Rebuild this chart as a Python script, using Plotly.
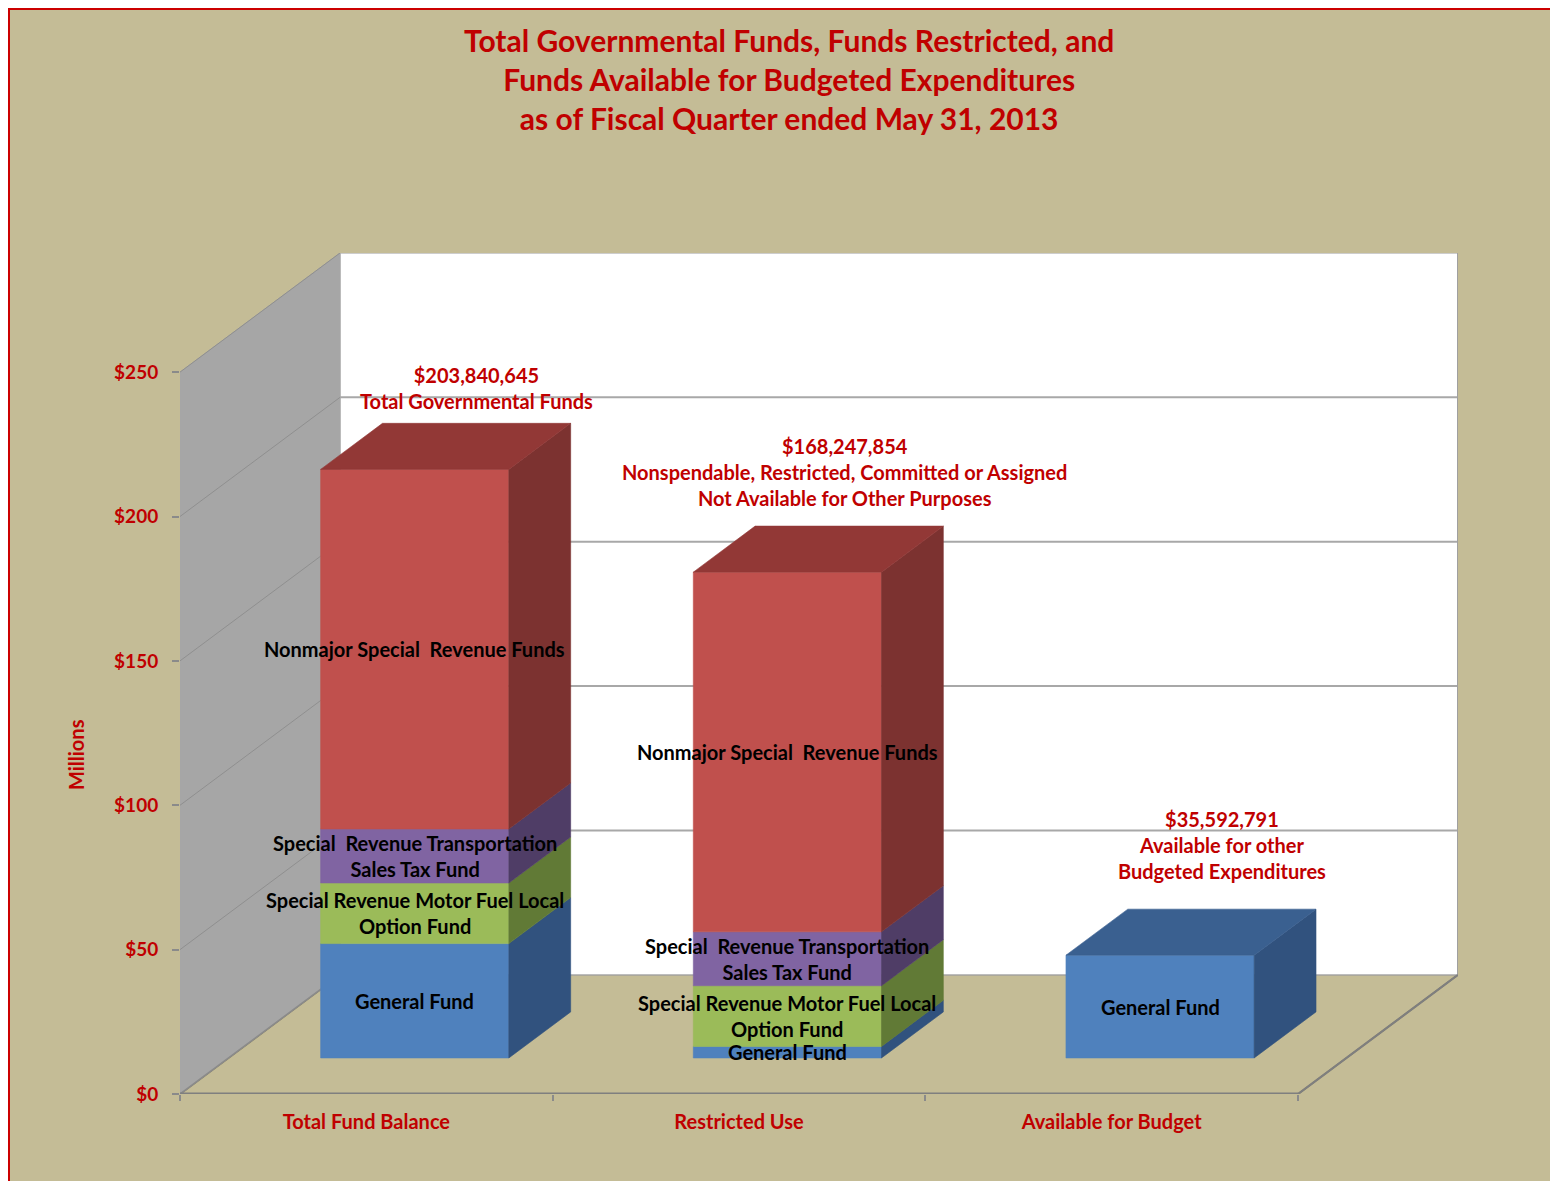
import plotly.graph_objects as go

# ---------------- data (millions of dollars) ----------------
categories = ["Total Fund Balance", "Restricted Use", "Available for Budget"]
series_names = ["General Fund", "Special Revenue Motor Fuel Local Option Fund",
                "Special Revenue Transportation Sales Tax Fund", "Nonmajor Special Revenue Funds"]
general_fund = [39.6, 4.01, 35.59]
motor_fuel = [21.0, 21.0, 0.0]
transportation = [18.7, 18.7, 0.0]
nonmajor = [124.54, 124.54, 0.0]
segment_labels = ["General Fund",
                  "Special Revenue Motor Fuel Local<br>Option Fund",
                  "Special\u00a0 Revenue Transportation<br>Sales Tax Fund",
                  "Nonmajor Special\u00a0 Revenue Funds"]
total_labels = ["$203,840,645<br>Total Governmental Funds",
                "$168,247,854<br>Nonspendable, Restricted, Committed or Assigned<br>Not Available for Other Purposes",
                "$35,592,791<br>Available for other<br>Budgeted Expenditures"]
y_ticks = [0, 50, 100, 150, 200, 250]
y_tick_text = ["$0", "$50", "$100", "$150", "$200", "$250"]
title_text = ("Total Governmental Funds, Funds Restricted, and<br>"
              "Funds Available for Budgeted Expenditures<br>"
              "as of Fiscal Quarter ended May 31, 2013")

# ---------------- style ----------------
FONT = "Lato"
RED = "#C00000"
BG = "#C4BC96"
front_colors = ["#4F81BD", "#9BBB59", "#8064A2", "#C0504D"]
side_colors = ["#31527E", "#617A36", "#4F3D66", "#7C3230"]
top_colors = ["#3A6090", "#76913F", "#5E4A7D", "#923836"]
label_offsets = [8, 14, 24]
label_xshift = [0, -5, 0]

OFF = 8                          # page body margin
W, H = 1558 - OFF, 1181 - OFF
ML, MR, MT, MB = 180 - OFF, 100, 253 - OFF, 87
PW, PH = W - ML - MR, H - MT - MB
PXX = 372.7                     # pixels per category unit
YMAX = 250
DX = 160 / PXX                  # oblique depth of the floor, in axis units
DY = 41.26
F0, F1 = 0.3025, 0.689          # bar front / back as fraction of depth
BAR_W = 0.505

def px(xs):  # screen pixel -> paper x
    return (xs - OFF - ML) / PW

def py(ys):  # screen pixel -> paper y
    return (H - MB - (ys - OFF)) / PH

fig = go.Figure()

def poly(xs, ys, fill, line_color=None, lw=0.6):
    fig.add_trace(go.Scatter(x=xs + [xs[0]], y=ys + [ys[0]], mode="lines", fill="toself",
                             fillcolor=fill, line=dict(color=line_color or fill, width=lw),
                             hoverinfo="skip", showlegend=False))

def line(xs, ys, color, width):
    fig.add_trace(go.Scatter(x=xs, y=ys, mode="lines", line=dict(color=color, width=width),
                             hoverinfo="skip", showlegend=False))

x0, x1 = -0.5, len(categories) - 0.5
# floor
poly([x0, x1, x1 + DX, x0 + DX], [0, 0, DY, DY], BG, "#86826F", 2)
# back wall
poly([x0 + DX, x1 + DX, x1 + DX, x0 + DX], [DY, DY, YMAX + DY, YMAX + DY], "#FFFFFF", "#BDBDBD", 1.5)
# left wall
poly([x0, x0 + DX, x0 + DX, x0], [0, DY, YMAX + DY, YMAX], "#A6A6A6", "#A6A6A6", 1)
for v in y_ticks[1:-1]:
    line([x0 + DX, x1 + DX], [v + DY, v + DY], "#A8A8A8", 2)
    line([x0, x0 + DX], [v, v + DY], "#8F8F8F", 1)
line([x0, x0 + DX], [0, DY], "#8A8A8A", 1.5)
line([x0, x0 + DX], [YMAX, YMAX + DY], "#8F8F8F", 1)
line([x1 + DX, x1 + DX], [DY, YMAX + DY], "#A0A0A0", 2)
line([x0, x1], [0, 0], "#7F7F7F", 3)
line([x1, x1 + DX], [0, DY], "#7F7F7F", 2)

# bars
series = [general_fund, motor_fuel, transportation, nonmajor]
fx, fy = F0 * DX, F0 * DY
ddx, ddy = (F1 - F0) * DX, (F1 - F0) * DY
for i, cat in enumerate(categories):
    xl = i + fx - BAR_W / 2
    xr = i + fx + BAR_W / 2
    base = 0.0
    segs = [(k, s[i]) for k, s in enumerate(series) if s[i] > 0]
    for n, (k, val) in enumerate(segs):
        b, t = base + fy, base + val + fy
        poly([xl, xr, xr, xl], [b, b, t, t], front_colors[k])
        poly([xr, xr + ddx, xr + ddx, xr], [b, b + ddy, t + ddy, t], side_colors[k])
        if n == len(segs) - 1:
            poly([xl, xr, xr + ddx, xl + ddx], [t, t, t + ddy, t + ddy], top_colors[k])
        fig.add_annotation(x=i + fx, y=(b + t) / 2, xref="x", yref="y", text=segment_labels[k],
                           showarrow=False, font=dict(family=FONT, size=20, color="black", weight="bold"))
        base += val
    fig.add_annotation(x=i + fx + ddx, y=base + fy + ddy, xref="x", yref="y", text=total_labels[i],
                       showarrow=False, yanchor="bottom", yshift=label_offsets[i], xshift=label_xshift[i],
                       font=dict(family=FONT, size=20, color=RED, weight="bold"))

# border
fig.add_shape(type="rect", xref="paper", yref="paper",
              x0=px(8.5), x1=px(1556), y0=py(1200), y1=py(8.5),
              line=dict(color="#CC0000", width=3), layer="above")

fig.add_annotation(xref="paper", yref="paper", x=px(789), y=py(79), text=title_text,
                   showarrow=False, xanchor="center", yanchor="middle",
                   font=dict(family=FONT, size=30, color=RED, weight="bold"))

fig.add_annotation(xref="paper", yref="paper", x=px(76), y=py(755),
                   text="Millions", textangle=-90, showarrow=False,
                   xanchor="center", yanchor="middle",
                   font=dict(family=FONT, size=20, color=RED, weight="bold"))

fig.update_layout(
    width=W, height=H,
    margin=dict(l=ML, r=MR, t=MT, b=MB),
    paper_bgcolor=BG, plot_bgcolor="rgba(0,0,0,0)",
    showlegend=False,
    xaxis=dict(range=[x0, x1 + DX], tickvals=list(range(len(categories))), ticktext=categories,
               showgrid=False, zeroline=False, showline=False, ticks="", ticklabelstandoff=14,
               tickfont=dict(family=FONT, size=20, color=RED, weight="bold"),
               minor=dict(tickvals=[x0 + k for k in range(len(categories) + 1)], ticks="outside",
                          ticklen=6, tickcolor="#8A8A8A", tickwidth=1.5)),
    yaxis=dict(range=[0, YMAX + DY], tickvals=y_ticks, ticktext=y_tick_text,
               showgrid=False, zeroline=False, showline=False, ticks="outside", ticklen=7,
               tickcolor="#8A8A8A", tickwidth=1.5, ticklabelstandoff=10,
               tickfont=dict(family=FONT, size=19, color=RED, weight="bold")),
)

fig.write_html("out.html")
